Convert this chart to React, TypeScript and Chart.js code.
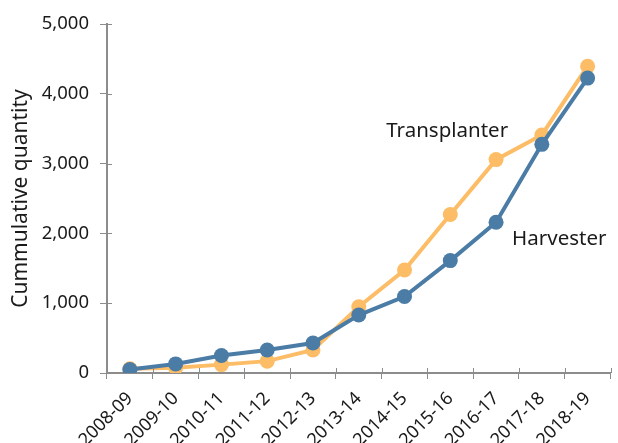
import React, { useEffect, useRef } from "react";
import { Chart, registerables } from "chart.js";

Chart.register(...registerables);

const categories = ["2008-09","2009-10","2010-11","2011-12","2012-13","2013-14","2014-15","2015-16","2016-17","2017-18","2018-19"];
const harvester = [50, 130, 250, 330, 430, 830, 1095, 1610, 2160, 3276, 4225];
const transplanter = [60, 75, 120, 170, 330, 950, 1475, 2270, 3057, 3410, 4395];
const yTicks = [0, 1000, 2000, 3000, 4000, 5000];
const axisTitle = "Cummulative quantity";

const FONT = "'Noto Sans', Lato, sans-serif";
const AXIS = "#8c8c8c";

const annotPlugin = {
  id: "annot",
  afterDraw(chart: any) {
    const { ctx, scales } = chart;
    const x = scales.x, y = scales.y;
    ctx.save();
    ctx.strokeStyle = AXIS;
    ctx.lineWidth = 1;
    ctx.beginPath();
    yTicks.forEach((v) => {
      const py = Math.round(y.getPixelForValue(v)) + 0.5;
      ctx.moveTo(x.left, py);
      ctx.lineTo(x.left + 5, py);
    });
    for (let i = 0; i <= categories.length; i++) {
      const px = Math.round(x.left + (i * (x.right - x.left)) / categories.length) + 0.5;
      ctx.moveTo(px, y.bottom);
      ctx.lineTo(px, y.bottom - 5);
    }
    ctx.stroke();
    ctx.fillStyle = "#1a1a1a";
    ctx.font = `20.5px ${FONT}`;
    ctx.textBaseline = "middle";
    ctx.textAlign = "left";
    ctx.fillText("Transplanter", x.getPixelForValue(5.6), y.getPixelForValue(3470));
    ctx.fillText("Harvester", x.getPixelForValue(8.35), y.getPixelForValue(1920));
    ctx.restore();
  },
};

export default function App() {
  const ref = useRef<HTMLCanvasElement>(null);
  useEffect(() => {
    const chart = new Chart(ref.current!, {
      type: "line",
      data: {
        labels: categories,
        datasets: [
          {
            label: "Harvester",
            data: harvester,
            borderColor: "#4a7ca6",
            backgroundColor: "#4a7ca6",
            borderWidth: 4,
            pointRadius: 7.5,
            pointHoverRadius: 7.5,
            pointBorderWidth: 0,
          },
          {
            label: "Transplanter",
            data: transplanter,
            borderColor: "#fdbd66",
            backgroundColor: "#fdbd66",
            borderWidth: 4,
            pointRadius: 7.5,
            pointHoverRadius: 7.5,
            pointBorderWidth: 0,
          },
        ],
      },
      options: {
        animation: false,
        responsive: false,
        maintainAspectRatio: false,
        layout: { padding: { top: 24, right: 3, left: 4, bottom: 0 } },
        plugins: { legend: { display: false }, tooltip: { enabled: false } },
        scales: {
          x: {
            offset: true,
            grid: { display: true, drawOnChartArea: false, color: AXIS, tickLength: 6, offset: true },
            border: { color: AXIS, width: 2 },
            ticks: { color: "#1a1a1a", font: { family: FONT, size: 18 }, maxRotation: 45, minRotation: 45, padding: 9 },
            afterFit: (s: any) => { s.height = 70; },
          },
          y: {
            min: 0,
            max: 5000,
            afterBuildTicks: (s: any) => { s.ticks = yTicks.map((v) => ({ value: v })); },
            grid: { display: true, drawOnChartArea: false, color: AXIS, tickLength: 7 },
            border: { color: AXIS, width: 2 },
            ticks: {
              color: "#1a1a1a",
              font: { family: FONT, size: 18.5 },
              padding: 11,
              callback: (v: any) => Number(v).toLocaleString("en-US"),
            },
            title: { display: true, text: axisTitle, color: "#1a1a1a", font: { family: FONT, size: 21 }, padding: 4 },
            afterFit: (s: any) => { s.width = 103; },
          },
        },
      },
      plugins: [annotPlugin],
    });
    return () => chart.destroy();
  }, []);
  return (
    <div style={{ position: "absolute", left: 0, top: 0, width: 618, height: 443, background: "#fff" }}>
      <canvas ref={ref} width={618} height={443} />
    </div>
  );
}
